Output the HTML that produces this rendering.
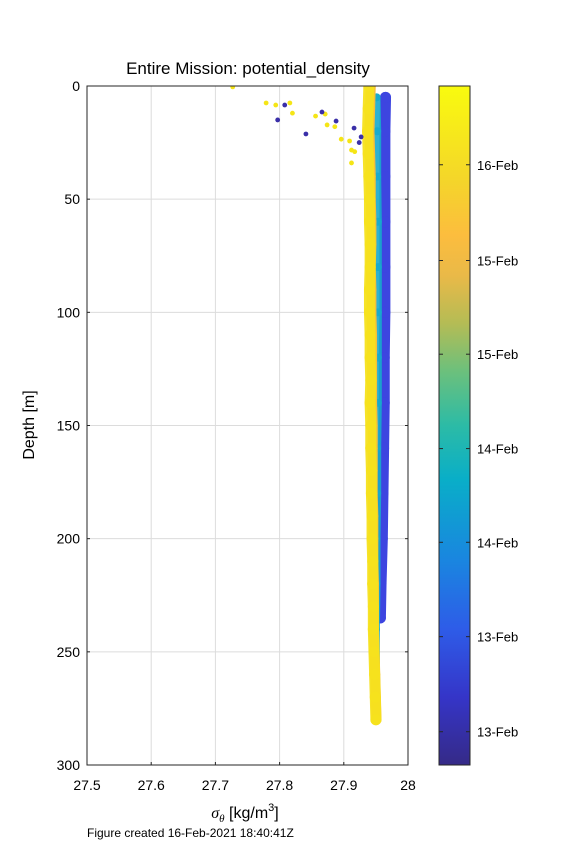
<!DOCTYPE html>
<html><head><meta charset="utf-8"><style>
body{margin:0;background:#fff;}
svg{font-family:"Liberation Sans",sans-serif;}
</style></head><body>
<svg id="fig" width="567" height="851" viewBox="0 0 567 851">
<defs>
<linearGradient id="parula" x1="0" y1="1" x2="0" y2="0">
<stop offset="0" stop-color="#352a87"/><stop offset="0.1" stop-color="#3535c8"/><stop offset="0.2" stop-color="#2e5ce8"/><stop offset="0.3" stop-color="#1a85e0"/><stop offset="0.42" stop-color="#09aec8"/><stop offset="0.5" stop-color="#2cbba6"/><stop offset="0.58" stop-color="#6cc07c"/><stop offset="0.65" stop-color="#b4bc55"/><stop offset="0.72" stop-color="#e9b948"/><stop offset="0.78" stop-color="#fcbd3e"/><stop offset="0.86" stop-color="#f4d52a"/><stop offset="1" stop-color="#f9fb0e"/>
</linearGradient>
<clipPath id="pc"><rect x="87" y="86" width="321" height="679"/></clipPath>
</defs>
<text x="248" y="74" text-anchor="middle" font-size="17">Entire Mission: potential_density</text>
<rect x="87" y="86" width="321" height="679" fill="#fff"/>
<g id="grid"></g>
<g id="marks" clip-path="url(#pc)"></g>
<rect x="87" y="86" width="321" height="679" fill="none" stroke="#262626" stroke-width="1"/>
<g id="axes"></g>
<text x="34" y="425" transform="rotate(-90 34 425)" text-anchor="middle" font-size="16">Depth [m]</text>
<text x="245" y="818" text-anchor="middle" font-size="16"><tspan font-family="Liberation Serif" font-style="italic">σ</tspan><tspan font-family="Liberation Serif" font-style="italic" font-size="11" dy="4">θ</tspan><tspan dy="-4"> [kg/m</tspan><tspan font-size="11" dy="-7">3</tspan><tspan dy="7">]</tspan></text>
<text x="87" y="837" font-size="12">Figure created 16-Feb-2021 18:40:41Z</text>
<rect x="439" y="86" width="31" height="679" fill="url(#parula)" stroke="#262626" stroke-width="1"/>
<g id="cbar"></g>
</svg>
<script>
const xTicks=[27.5,27.6,27.7,27.8,27.9,28];
const xTickLabels=["27.5","27.6","27.7","27.8","27.9","28"];
const yTicks=[0,50,100,150,200,250,300];
const cbarLabels=["16-Feb","15-Feb","15-Feb","14-Feb","14-Feb","13-Feb","13-Feb"];
const cbarFrac=[0.884,0.743,0.605,0.466,0.328,0.189,0.049];
// profiles: depth (m) and sigma-theta
const lateDepth=[0,10,20,30,40,50,60,70,80,90,100,110,120,130,140,150,160,170,180,190,200,210,220,230,240,250,260,270,280];
const lateSigma=[27.939,27.938,27.937,27.938,27.939,27.94,27.94,27.941,27.941,27.94,27.94,27.941,27.941,27.942,27.941,27.942,27.942,27.943,27.943,27.944,27.944,27.945,27.945,27.946,27.946,27.947,27.948,27.949,27.95];
const orangeSigma=[27.942,27.941,27.94,27.941,27.942,27.942,27.943,27.943,27.942,27.943,27.943,27.944,27.944,27.944,27.944,27.945,27.945,27.945,27.945,27.946,27.946,27.946,27.947,27.947,27.947,27.948,27.949,27.95,27.951];
const midDepth=[5,20,40,60,80,100,120,140,160,180,200,220,240,255];
const midSigma=[27.951,27.952,27.952,27.953,27.953,27.953,27.953,27.953,27.952,27.952,27.951,27.951,27.95,27.95];
const earlyDepth=[5,20,40,60,80,100,120,140,160,180,200,220,235];
const earlySigma=[27.965,27.964,27.964,27.964,27.964,27.964,27.963,27.963,27.962,27.961,27.96,27.958,27.957];
const outSigma=[27.727,27.779,27.794,27.816,27.82,27.856,27.871,27.874,27.886,27.896,27.909,27.912,27.917,27.912,27.808,27.797,27.866,27.888,27.841,27.916,27.927,27.924];
const outDepth=[0.4,7.5,8.4,7.5,12,13.3,12.4,17.2,18,23.5,24.3,28.3,29,34,8.4,15,11.5,15.5,21.2,18.6,22.5,25];
const outGroup=["late","late","late","late","late","late","late","late","late","late","late","late","late","late","early","early","early","early","early","early","early","early"];
const X=v=>87+(v-27.5)/0.5*321;
const Y=d=>86+d/300*679;
const NS="http://www.w3.org/2000/svg";
function mk(t,a,p){const e=document.createElementNS(NS,t);for(const k in a)e.setAttribute(k,a[k]);p.appendChild(e);return e;}
const grid=document.getElementById('grid'),axes=document.getElementById('axes'),marks=document.getElementById('marks'),cb=document.getElementById('cbar');
xTicks.forEach((v,i)=>{
 if(i>0&&i<xTicks.length-1){const g=mk('line',{x1:X(v),x2:X(v),y1:86,y2:765,stroke:'#dcdcdc'},grid);
 
 }
 mk('line',{x1:X(v),x2:X(v),y1:765,y2:762,stroke:'#262626'},axes);
 const t=mk('text',{x:X(v),y:790,'text-anchor':'middle','font-size':14},axes);t.textContent=xTickLabels[i];
 
 
});
yTicks.forEach(v=>{
 if(v>0&&v<300){const g=mk('line',{x1:87,x2:408,y1:Y(v),y2:Y(v),stroke:'#dcdcdc'},grid);
 
 }
 mk('line',{x1:87,x2:90,y1:Y(v),y2:Y(v),stroke:'#262626'},axes);
 mk('line',{x1:408,x2:405,y1:Y(v),y2:Y(v),stroke:'#262626'},axes);
 const t=mk('text',{x:80,y:Y(v)+5,'text-anchor':'end','font-size':14},axes);t.textContent=v;
 
 
});
function band(dep,sig,color,w,op,name){
 const pts=dep.map((d,i)=>X(sig[i])+','+Y(d)).join(' ');
 const p=mk('polyline',{points:pts,fill:'none',stroke:color,'stroke-width':w,'stroke-linecap':'round','stroke-linejoin':'round',opacity:op},marks);
 
 
 dep.forEach((d,i)=>{
  const c=mk('circle',{cx:X(sig[i]),cy:Y(d),r:w/2,fill:color,opacity:op},marks);
  
  
 });
}
band(earlyDepth,earlySigma,'#3d45e0',11,1,'early-profile');
band(midDepth,midSigma,'#17aacb',8,0.9,'mid-profile');
band(lateDepth,orangeSigma,'#f6bf3a',10,1,'orange-profile');
band(lateDepth,lateSigma,'#f5e21e',11,0.95,'late-profile');
outSigma.forEach((s,i)=>{
 const c=mk('circle',{cx:X(s),cy:Y(outDepth[i]),r:2.4,fill:outGroup[i]=='late'?'#f5e516':'#3a2fa8'},marks);
 
 
});
cbarLabels.forEach((l,i)=>{
 const y=765-cbarFrac[i]*679;
 mk('line',{x1:439,x2:443,y1:y,y2:y,stroke:'#262626'},cb);
 mk('line',{x1:470,x2:466,y1:y,y2:y,stroke:'#262626'},cb);
 const t=mk('text',{x:477,y:y+5,'font-size':13},cb);t.textContent=l;
 
 
});
</script>
</body></html>
